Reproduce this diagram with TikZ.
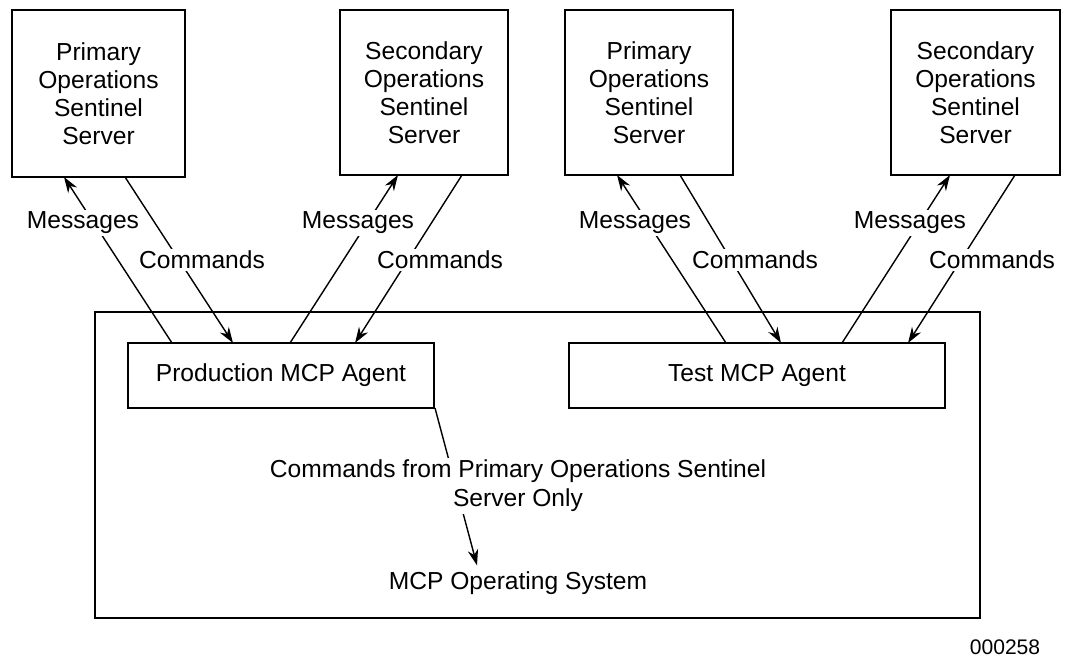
\documentclass[tikz,border=0pt]{standalone}
\usepackage{fontspec}
\setmainfont{Liberation Sans}
\usetikzlibrary{positioning,arrows.meta}

\tikzset{
    box/.style={draw, thick, align=center, inner sep=0pt},
    lbl/.style={fill=white, inner sep=1pt, font=\fontsize{14}{16.5}\selectfont},
    link/.style={thick},
    arr/.style={thick, -{Stealth[length=9pt,width=6pt]}}
}

\begin{document}
\begin{tikzpicture}[x=0.02cm, y=-0.02cm, font=\fontsize{14}{16}\selectfont]
    \useasboundingbox (0,0) rectangle (1075,664);

    % Servers
    \node[box, minimum width=3.46cm, minimum height=3.34cm] (pri1) at (98.5,93.5) {Primary\\Operations\\Sentinel\\Server};
    \node[box, minimum width=3.36cm, minimum height=3.3cm] (sec1) at (424,92.5) {Secondary\\Operations\\Sentinel\\Server};
    \node[box, minimum width=3.36cm, minimum height=3.3cm] (pri2) at (649,92.5) {Primary\\Operations\\Sentinel\\Server};
    \node[box, minimum width=3.38cm, minimum height=3.3cm] (sec2) at (975.5,92.5) {Secondary\\Operations\\Sentinel\\Server};

    % Host
    \node[box, minimum width=17.7cm, minimum height=6.12cm] (host) at (537.5,465) {};
    \node[box, minimum width=6.12cm, minimum height=1.3cm] (prod) at (281,375.5) {Production MCP Agent};
    \node[box, minimum width=7.52cm, minimum height=1.3cm] (test) at (757,375.5) {Test MCP Agent};
    \node (os) at (518,583) {MCP Operating System};

    % Ends on the boxes
    \coordinate (p1m) at (64,177);   \coordinate (p1c) at (125,177);
    \coordinate (s1m) at (398,175);  \coordinate (s1c) at (462,175);
    \coordinate (p2m) at (617,175);  \coordinate (p2c) at (680,175);
    \coordinate (s2m) at (950,175);  \coordinate (s2c) at (1015,175);
    \coordinate (am1) at (172,343);  \coordinate (ac1) at (233,343);
    \coordinate (am2) at (290,343);  \coordinate (ac2) at (355,343);
    \coordinate (bm1) at (726,343);  \coordinate (bc1) at (781,343);
    \coordinate (bm2) at (842,343);  \coordinate (bc2) at (908,343);
    \coordinate (pd) at (435,408);

    % Connectors
    \draw[arr] (am1) -- (p1m);
    \draw[arr] (p1c) -- (ac1);
    \draw[arr] (am2) -- (s1m);
    \draw[arr] (s1c) -- (ac2);
    \draw[arr] (bm1) -- (p2m);
    \draw[arr] (p2c) -- (bc1);
    \draw[arr] (bm2) -- (s2m);
    \draw[arr] (s2c) -- (bc2);
    \draw[arr] (pd) -- (os.north -| 477,0);

    % Labels
    \node[lbl] at (83,223) {Messages};
    \node[lbl] at (202,260) {Commands};
    \node[lbl] at (358,223) {Messages};
    \node[lbl] at (440,260) {Commands};
    \node[lbl] at (635,223) {Messages};
    \node[lbl] at (755,260) {Commands};
    \node[lbl] at (910,223) {Messages};
    \node[lbl] at (992,260) {Commands};
    \node[lbl, align=center] at (518,486) {Commands from Primary Operations Sentinel\\Server Only};
    \node[font=\fontsize{12}{14}\selectfont] at (1005,647) {000258};
\end{tikzpicture}
\end{document}
